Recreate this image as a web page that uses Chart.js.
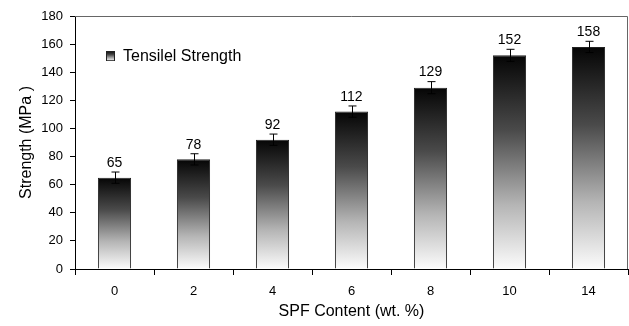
<!DOCTYPE html>
<html>
<head>
<meta charset="utf-8">
<script src="https://cdn.jsdelivr.net/npm/chart.js@4/dist/chart.umd.min.js"></script>
<style>
  html, body { margin: 0; padding: 0; background: #fff; }
  #wrap { width: 629px; height: 326px; }
</style>
</head>
<body>
<div id="wrap"><canvas id="c" width="629" height="326"></canvas></div>
<script>
const categories = ['0', '2', '4', '6', '8', '10', '14'];
const strengthValues = [65, 78, 92, 112, 129, 152, 158];
const strengthErrors = [4, 4, 4, 4, 4.3, 4.3, 4];
const yTicks = [0, 20, 40, 60, 80, 100, 120, 140, 160, 180];
const seriesName = 'Tensilel Strength';
const xTitle = 'SPF Content (wt. %)';
const yTitle = 'Strength (MPa )';

const FONT = "'Liberation Sans', Arial, sans-serif";

function addStops(g) {
  g.addColorStop(0, '#050505');
  g.addColorStop(0.35, '#4a4a4a');
  g.addColorStop(0.7, '#b5b5b5');
  g.addColorStop(1, '#fcfcfc');
  return g;
}

// legend swatch image
const swatch = document.createElement('canvas');
swatch.width = 9; swatch.height = 10;
(function () {
  const s = swatch.getContext('2d');
  s.fillStyle = addStops(s.createLinearGradient(0, 0, 0, 10));
  s.fillRect(0, 0, 9, 10);
  s.strokeStyle = '#222';
  s.lineWidth = 1;
  s.strokeRect(0.5, 0.5, 8, 9);
})();

const errorBarsPlugin = {
  id: 'errorBars',
  afterDatasetsDraw(chart) {
    const ctx = chart.ctx;
    const y = chart.scales.y;
    const meta = chart.getDatasetMeta(0);
    ctx.save();
    meta.data.forEach((el, i) => {
      const v = strengthValues[i], e = strengthErrors[i];
      const yt = y.getPixelForValue(v + e);
      const yb = y.getPixelForValue(v - e);
      const x = Math.round(el.x) + 0.5;
      ctx.strokeStyle = '#000';
      ctx.lineWidth = 1;
      ctx.beginPath();
      ctx.moveTo(x, yt); ctx.lineTo(x, yb);
      ctx.moveTo(x - 4, yt); ctx.lineTo(x + 4, yt);
      ctx.moveTo(x - 4, yb); ctx.lineTo(x + 4, yb);
      ctx.stroke();
      ctx.fillStyle = '#000';
      ctx.font = '14px ' + FONT;
      ctx.textAlign = 'center';
      ctx.textBaseline = 'bottom';
      ctx.fillText(String(v), el.x, yt - 2);
    });
    ctx.restore();
  },
  beforeDatasetsDraw(chart) {
    const {ctx, chartArea: a} = chart;
    ctx.save();
    ctx.strokeStyle = '#666';
    ctx.lineWidth = 1;
    ctx.beginPath();
    ctx.moveTo(a.left, a.top + 0.5);
    ctx.lineTo(a.right - 0.5, a.top + 0.5);
    ctx.lineTo(a.right - 0.5, a.bottom);
    ctx.stroke();
    ctx.restore();
  }
};

new Chart(document.getElementById('c'), {
  type: 'bar',
  data: {
    labels: categories,
    datasets: [{
      label: seriesName,
      data: strengthValues,
      backgroundColor: (c) => {
        const chart = c.chart;
        if (!chart.chartArea || c.type !== 'data') return '#666';
        const ys = chart.scales.y;
        const top = ys.getPixelForValue(c.parsed.y);
        const bot = ys.getPixelForValue(0);
        return addStops(chart.ctx.createLinearGradient(0, top, 0, bot));
      },
      borderColor: '#222',
      borderWidth: 1,
      borderSkipped: 'bottom',
      categoryPercentage: 1,
      barPercentage: 0.42
    }]
  },
  plugins: [errorBarsPlugin],
  options: {
    responsive: false,
    animation: false,
    devicePixelRatio: 1,
    layout: { padding: { left: 0, right: 1, top: 16, bottom: 0 } },
    plugins: {
      tooltip: { enabled: false },
      legend: {
        position: 'chartArea',
        align: 'start',
        title: { display: true, text: '', font: { size: 1 }, padding: { top: 16, bottom: 0 } },
        labels: {
          usePointStyle: true,
          pointStyle: swatch,
          boxWidth: 9,
          boxHeight: 10,
          padding: 31,
          color: '#000',
          font: { family: FONT, size: 16 }
        }
      }
    },
    scales: {
      x: {
        grid: { drawOnChartArea: false, drawTicks: true, tickLength: 6, color: '#000', offset: true },
        border: { display: true, color: '#000', width: 1 },
        ticks: { color: '#000', font: { family: FONT, size: 13 }, padding: 9, maxRotation: 0 },
        title: { display: true, text: xTitle, color: '#000', font: { family: FONT, size: 16 }, padding: { top: 0, bottom: 5 } },
        afterFit(s) { s.height = 57; }
      },
      y: {
        min: 0, max: 180,
        afterBuildTicks(s) { s.ticks = yTicks.map(v => ({ value: v })); },
        grid: { drawOnChartArea: false, drawTicks: true, tickLength: 5, color: '#000' },
        border: { display: true, color: '#000', width: 1 },
        ticks: { color: '#000', font: { family: FONT, size: 13 }, padding: 7 },
        title: { display: true, text: yTitle, color: '#000', font: { family: FONT, size: 16 }, padding: { top: 17, bottom: 0 } },
        afterFit(s) { s.width = 75; }
      }
    }
  }
});
</script>
</body>
</html>
